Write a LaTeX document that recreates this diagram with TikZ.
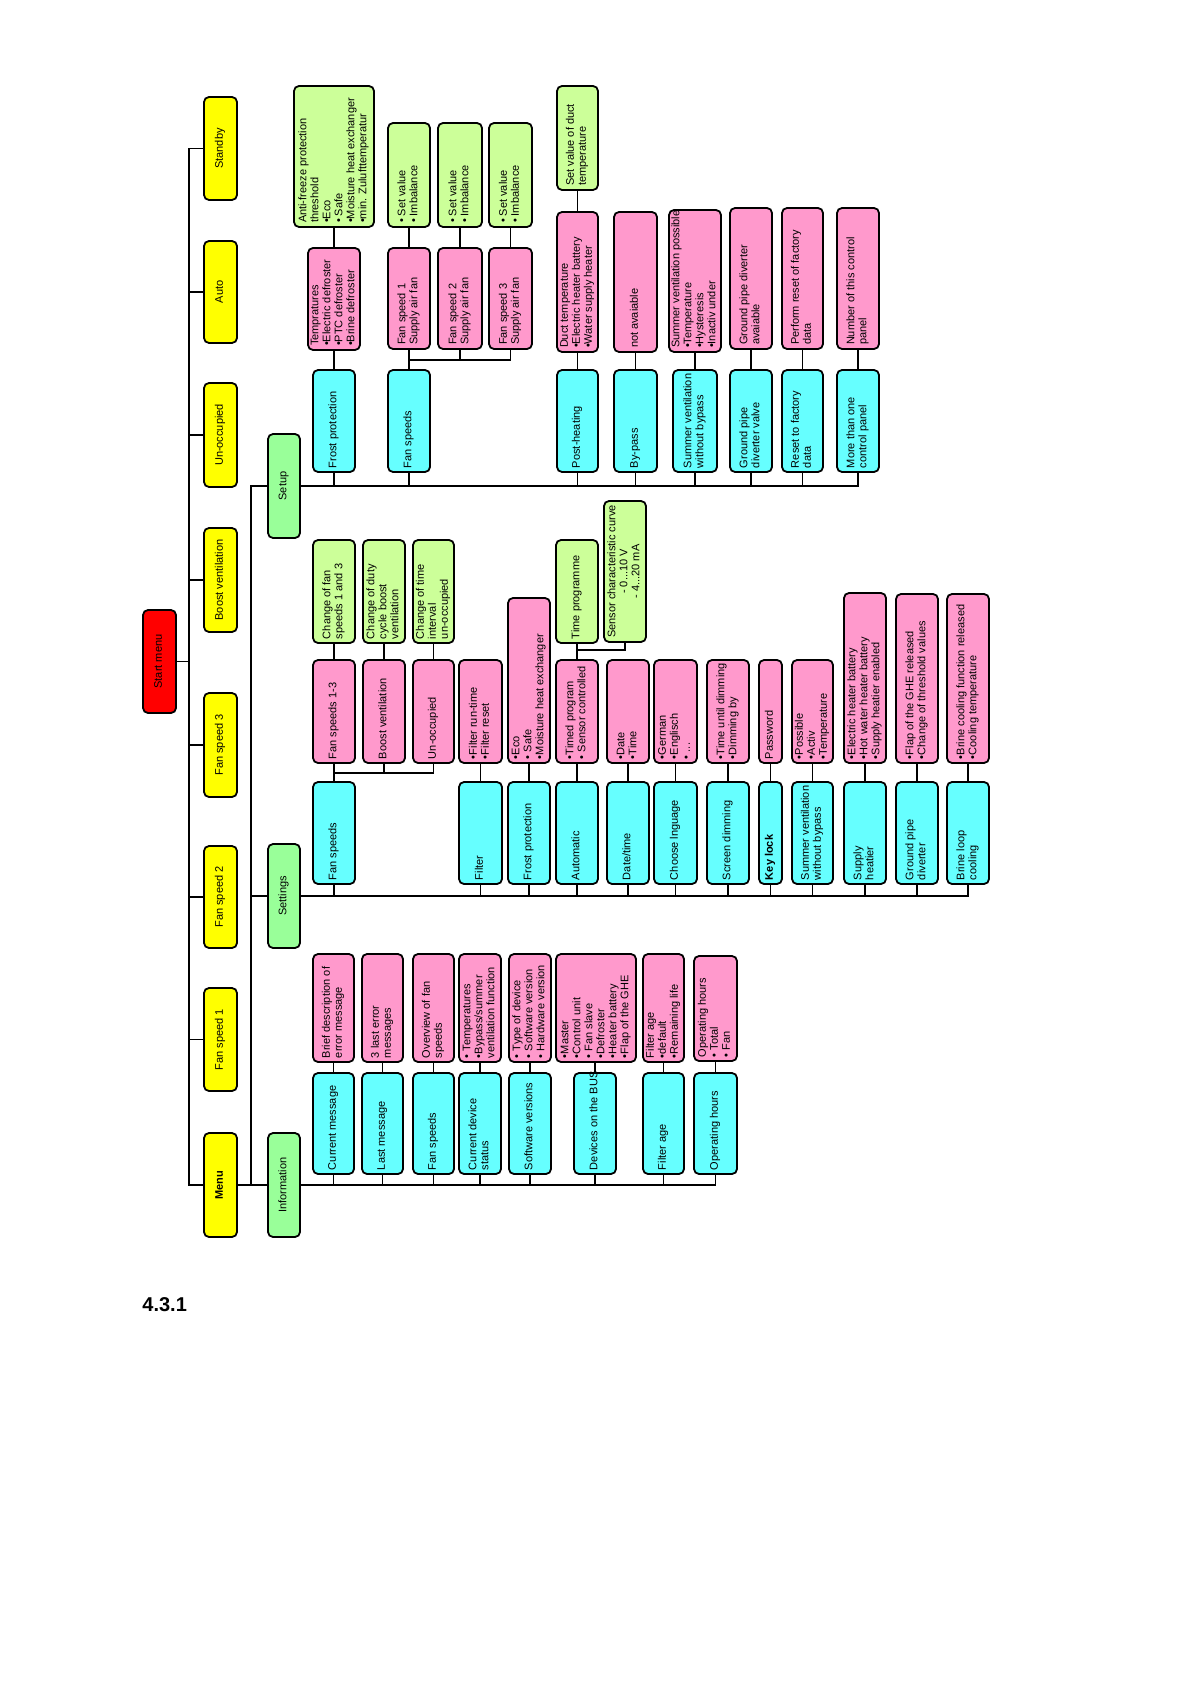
\documentclass[tikz,border=0pt]{standalone}
\usepackage{fontspec}
\setmainfont{Liberation Sans}
\definecolor{cYel}{HTML}{FFFF00}
\definecolor{cRed}{HTML}{FF0000}
\definecolor{cGrn}{HTML}{99FF99}
\definecolor{cLgr}{HTML}{CCFF99}
\definecolor{cPnk}{HTML}{FF99CC}
\definecolor{cCyn}{HTML}{66FFFF}
\tikzset{
  bx/.style={draw, line width=0.9pt, rounded corners=2.5pt, rotate=90,
    inner xsep=2pt, inner ysep=0.3pt, font=\fontsize{5.5}{6}\selectfont},
  yel/.style={bx, fill=cYel},
  startbox/.style={bx, fill=cRed},
  grn/.style={bx, fill=cGrn},
  lgr/.style={bx, fill=cLgr},
  pnk/.style={bx, fill=cPnk},
  cyn/.style={bx, fill=cCyn},
  conn/.style={line width=0.9pt}
}
% #1 name, #2 style, #3 align (l/c), #4 x1, #5 y1, #6 x2, #7 y2, #8 text
\newcommand\boxnode[8]{%
  \pgfmathsetmacro\bxW{0.5*(#6-#4)}%
  \pgfmathsetmacro\bxL{0.5*(#7-#5)}%
  \pgfmathsetmacro\bxT{0.5*(#7-#5)-4}%
  \node[#2, minimum height=\bxW pt, minimum width=\bxL pt] (#1) at ({(#4+#6)/2},{(#5+#7)/2})
    {\makebox[\bxT pt][#3]{\begin{tabular}{@{}#3@{}}#8\end{tabular}}};%
}
\begin{document}
\begin{tikzpicture}[x=0.5pt, y=-0.5pt]
\fill[white] (0,0) rectangle (1191,1684);
\useasboundingbox (0,0) rectangle (1191,1684);

% ---------- top level ----------
\boxnode{start}{startbox}{c}{143}{610}{176}{713}{Start menu}
\boxnode{standby}{yel}{c}{204}{97}{237}{200}{Standby}
\boxnode{auto}{yel}{c}{204}{241}{237}{343}{Auto}
\boxnode{unocc}{yel}{c}{204}{383}{237}{487}{Un-occupied}
\boxnode{boost}{yel}{c}{204}{528}{237}{632}{Boost ventilation}
\boxnode{fsthree}{yel}{c}{204}{693}{237}{797}{Fan speed 3}
\boxnode{fstwo}{yel}{c}{204}{846}{237}{948}{Fan speed 2}
\boxnode{fsone}{yel}{c}{204}{988}{237}{1091}{Fan speed 1}
\boxnode{menu}{yel}{c}{204}{1133}{237}{1237}{\bfseries Menu}

\boxnode{setup}{grn}{c}{268}{434}{300}{538}{Setup}
\boxnode{settings}{grn}{c}{268}{844}{300}{948}{Settings}
\boxnode{info}{grn}{c}{268}{1133}{300}{1237}{Information}

% ---------- Setup ----------
\boxnode{sfrost}{cyn}{l}{313}{370}{355}{472}{Frost protection}
\boxnode{sfan}{cyn}{l}{388}{370}{430}{472}{Fan speeds}
\boxnode{spost}{cyn}{l}{557}{370}{598}{472}{Post-heating}
\boxnode{sbypass}{cyn}{l}{614}{370}{657}{472}{By-pass}
\boxnode{ssummer}{cyn}{l}{673}{370}{717}{472}{Summer ventilation\\without bypass}
\boxnode{sground}{cyn}{l}{730}{370}{772}{472}{Ground pipe\\diverter valve}
\boxnode{sreset}{cyn}{l}{782}{370}{823}{472}{Reset to factory\\data}
\boxnode{smore}{cyn}{l}{837}{370}{879}{472}{More than one\\control panel}

\boxnode{ptemp}{pnk}{l}{308}{248}{360}{350}{Tempratures\\•Electric defroster\\•PTC defroster\\•Brine defroster}
\boxnode{pfsone}{pnk}{l}{388}{248}{430}{349}{Fan speed 1\\Supply air fan}
\boxnode{pfstwo}{pnk}{l}{438}{248}{482}{349}{Fan speed 2\\Supply air fan}
\boxnode{pfsthree}{pnk}{l}{489}{248}{532}{349}{Fan speed 3\\Supply air fan}
\boxnode{pduct}{pnk}{l}{557}{212}{598}{352}{Duct temperature\\•Electric heater battery\\•Water supply heater}
\boxnode{pnot}{pnk}{l}{614}{212}{657}{352}{not avaiable}
\boxnode{psum}{pnk}{l}{669}{210}{721}{352}{Summer ventilation possible\\•Temperature\\•Hysteresis\\•Inactiv under}
\boxnode{pground}{pnk}{l}{730}{208}{772}{349}{Ground pipe diverter\\avaiable}
\boxnode{preset}{pnk}{l}{782}{208}{823}{349}{Perform reset of factory\\data}
\boxnode{pnum}{pnk}{l}{837}{208}{879}{349}{Number of this control\\panel}

\boxnode{ganti}{lgr}{l}{294}{86}{374}{227}{Anti-freeze protection\\threshold\\•Eco\\• Safe\\•Moisture heat exchanger\\•min. Zulufttemperatur}
\boxnode{gsvone}{lgr}{l}{388}{123}{430}{227}{• Set value\\• Imbalance}
\boxnode{gsvtwo}{lgr}{l}{438}{123}{482}{227}{• Set value\\• Imbalance}
\boxnode{gsvthree}{lgr}{l}{489}{123}{532}{227}{• Set value\\• Imbalance}
\boxnode{gduct}{lgr}{l}{557}{86}{598}{190}{Set value of duct\\temperature}

% ---------- Settings ----------
\boxnode{tfan}{cyn}{l}{313}{782}{355}{884}{Fan speeds}
\boxnode{tfilter}{cyn}{l}{459}{782}{502}{884}{Filter}
\boxnode{tfrost}{cyn}{l}{508}{782}{550}{884}{Frost protection}
\boxnode{tauto}{cyn}{l}{556}{782}{598}{884}{Automatic}
\boxnode{tdate}{cyn}{l}{607}{782}{649}{884}{Date/time}
\boxnode{tlang}{cyn}{l}{654}{782}{697}{884}{Choose lnguage}
\boxnode{tscreen}{cyn}{l}{707}{782}{749}{884}{Screen dimming}
\boxnode{tkey}{cyn}{l}{759}{782}{782}{884}{\bfseries Key lock}
\boxnode{tsummer}{cyn}{l}{792}{782}{833}{884}{Summer ventilation\\without bypass}
\boxnode{tsupply}{cyn}{l}{844}{782}{886}{884}{Supply\\heatier}
\boxnode{tground}{cyn}{l}{896}{782}{938}{884}{Ground pipe\\diverter}
\boxnode{tbrine}{cyn}{l}{947}{782}{989}{884}{Brine loop\\cooling}

\boxnode{qfs}{pnk}{l}{313}{660}{355}{763}{Fan speeds 1-3}
\boxnode{qboost}{pnk}{l}{363}{660}{405}{763}{Boost ventilation}
\boxnode{qunocc}{pnk}{l}{413}{660}{454}{763}{Un-occupied}
\boxnode{qfilter}{pnk}{l}{459}{660}{502}{763}{•Filter run-time\\•Filter reset}
\boxnode{qfrost}{pnk}{l}{508}{598}{550}{763}{•Eco\\• Safe\\•Moisture heat exchanger}
\boxnode{qauto}{pnk}{l}{556}{660}{598}{763}{•Timed program\\• Sensor controlled}
\boxnode{qdate}{pnk}{l}{607}{660}{649}{763}{•Date\\•Time}
\boxnode{qlang}{pnk}{l}{654}{660}{697}{763}{•German\\•Englisch\\• ...}
\boxnode{qscreen}{pnk}{l}{707}{660}{749}{763}{•Time until dimming\\•Dimming by}
\boxnode{qkey}{pnk}{l}{759}{660}{782}{763}{Password}
\boxnode{qsummer}{pnk}{l}{792}{660}{833}{763}{•Possible\\•Activ\\•Temperature}
\boxnode{qsupply}{pnk}{l}{844}{593}{886}{763}{•Electric heater battery\\•Hot water heater battery\\•Supply heatier enabled}
\boxnode{qground}{pnk}{l}{896}{594}{938}{763}{•Flap of the GHE released\\•Change of threshold values}
\boxnode{qbrine}{pnk}{l}{947}{594}{989}{763}{•Brine cooling function released\\•Cooling temperature}

\boxnode{hfs}{lgr}{l}{313}{540}{355}{643}{Change of fan\\speeds 1 and 3}
\boxnode{hboost}{lgr}{l}{363}{540}{405}{643}{Change of duty\\cycle boost\\ventilation}
\boxnode{hunocc}{lgr}{l}{413}{540}{454}{643}{Change of time\\interval\\un-occupied}
\boxnode{htime}{lgr}{l}{556}{540}{598}{643}{Time programme}
\boxnode{hsensor}{lgr}{c}{604}{501}{646}{642}{Sensor characteristic curve\\- 0...10 V\\- 4...20 mA}

% ---------- Information ----------
\boxnode{icur}{cyn}{l}{313}{1073}{354}{1174}{Current message}
\boxnode{ilast}{cyn}{l}{362}{1073}{403}{1174}{Last message}
\boxnode{ifan}{cyn}{l}{413}{1073}{454}{1174}{Fan speeds}
\boxnode{istatus}{cyn}{l}{459}{1073}{501}{1174}{Current device\\status}
\boxnode{isoft}{cyn}{l}{509}{1073}{551}{1174}{Software versions}
\boxnode{ibus}{cyn}{l}{574}{1073}{616}{1174}{Devices on the BUS}
\boxnode{ifilter}{cyn}{l}{643}{1073}{684}{1174}{Filter age}
\boxnode{iop}{cyn}{l}{694}{1073}{737}{1174}{Operating hours}

\boxnode{jcur}{pnk}{l}{313}{954}{354}{1062}{Brief description of\\error message}
\boxnode{jlast}{pnk}{l}{362}{954}{403}{1062}{3 last error\\messages}
\boxnode{jfan}{pnk}{l}{413}{954}{454}{1062}{Overview of fan\\speeds}
\boxnode{jstatus}{pnk}{l}{459}{954}{501}{1062}{• Temperatures\\•Bypass/summer\\ventilation function}
\boxnode{jsoft}{pnk}{l}{509}{954}{551}{1062}{• Type of device\\• Software version\\• Hardware version}
\boxnode{jbus}{pnk}{l}{556}{954}{636}{1062}{•Master\\•Control unit\\• Fan slave\\•Defroster\\•Heater battery\\•Flap of the GHE}
\boxnode{jfilter}{pnk}{l}{643}{954}{684}{1062}{Filter age\\•default\\•Remaining life}
\boxnode{jop}{pnk}{l}{694}{956}{737}{1061}{Operating hours\\• Total\\• Fan}

\node[anchor=west, font=\bfseries\fontsize{10}{12}\selectfont, inner sep=0pt] (sec) at (142,1305) {4.3.1};

% ---------- connectors ----------
\draw[conn] (standby.north) -- ++(-14,0) coordinate (trunk) -- (trunk |- menu.north) -- (menu.north);
\foreach \n in {auto,unocc,boost,fsthree,fstwo,fsone}
  \draw[conn] (\n.north) -- (\n.north -| trunk);
\draw[conn] (start.south) -- (start.south -| trunk);

\draw[conn] (menu.south) -- (info.north);
\draw[conn] (setup.north) -- ++(-16,0) coordinate (trunkb) -- (trunkb |- info.north);
\draw[conn] (settings.north) -- (settings.north -| trunkb);

% Setup
\draw[conn] (setup.south) -| (smore.west);
\foreach \n in {sfrost,sfan,spost,sbypass,ssummer,sground,sreset}
  \draw[conn] (\n.west) -- (\n.west |- setup.south);
\draw[conn] (sfrost.east) -- (ptemp.west);
\draw[conn] (ptemp.east) -- (ganti.west);
\draw[conn] (sfan.east) -- (pfsone.west);
\draw[conn] (pfsone.west) ++(0,10) -| (pfsthree.west);
\draw[conn] (pfstwo.west) -- ++(0,10);
\draw[conn] (pfsone.east) -- (gsvone.west);
\draw[conn] (pfstwo.east) -- (gsvtwo.west);
\draw[conn] (pfsthree.east) -- (gsvthree.west);
\draw[conn] (spost.east) -- (pduct.west);
\draw[conn] (pduct.east) -- (gduct.west);
\draw[conn] (sbypass.east) -- (pnot.west);
\draw[conn] (ssummer.east) -- (ssummer.east |- psum.west);
\draw[conn] (sground.east) -- (pground.west);
\draw[conn] (sreset.east) -- (preset.west);
\draw[conn] (smore.east) -- (pnum.west);

% Settings
\draw[conn] (settings.south) -| (tbrine.west);
\foreach \n in {tfan,tfilter,tfrost,tauto,tdate,tlang,tscreen,tkey,tsummer,tsupply,tground}
  \draw[conn] (\n.west) -- (\n.west |- settings.south);
\draw[conn] (tfan.east) -- (qfs.west);
\draw[conn] (qfs.west) ++(0,9) -| (qunocc.west);
\draw[conn] (qboost.west) -- ++(0,9);
\draw[conn] (qfs.east) -- (hfs.west);
\draw[conn] (qboost.east) -- (hboost.west);
\draw[conn] (qunocc.east) -- (hunocc.west);
\draw[conn] (tfilter.east) -- (qfilter.west);
\draw[conn] (tfrost.east) -- (qfrost.west);
\draw[conn] (tauto.east) -- (qauto.west);
\draw[conn] (qauto.east) -- (htime.west);
\draw[conn] (qauto.east) ++(0,-9) -| (hsensor.west);
\draw[conn] (tdate.east) -- (qdate.west);
\draw[conn] (tlang.east) -- (qlang.west);
\draw[conn] (tscreen.east) -- (qscreen.west);
\draw[conn] (tkey.east) -- (qkey.west);
\draw[conn] (tsummer.east) -- (qsummer.west);
\draw[conn] (tsupply.east) -- (qsupply.west);
\draw[conn] (tground.east) -- (qground.west);
\draw[conn] (tbrine.east) -- (qbrine.west);

% Information
\draw[conn] (info.south) -| (iop.west);
\foreach \n in {icur,ilast,ifan,istatus,isoft,ibus,ifilter}
  \draw[conn] (\n.west) -- (\n.west |- info.south);
\draw[conn] (icur.east) -- (jcur.west);
\draw[conn] (ilast.east) -- (jlast.west);
\draw[conn] (ifan.east) -- (jfan.west);
\draw[conn] (istatus.east) -- (jstatus.west);
\draw[conn] (isoft.east) -- (jsoft.west);
\draw[conn] (ibus.east) -- (ibus.east |- jbus.west);
\draw[conn] (ifilter.east) -- (jfilter.west);
\draw[conn] (iop.east) -- (jop.west);
\end{tikzpicture}
\end{document}
